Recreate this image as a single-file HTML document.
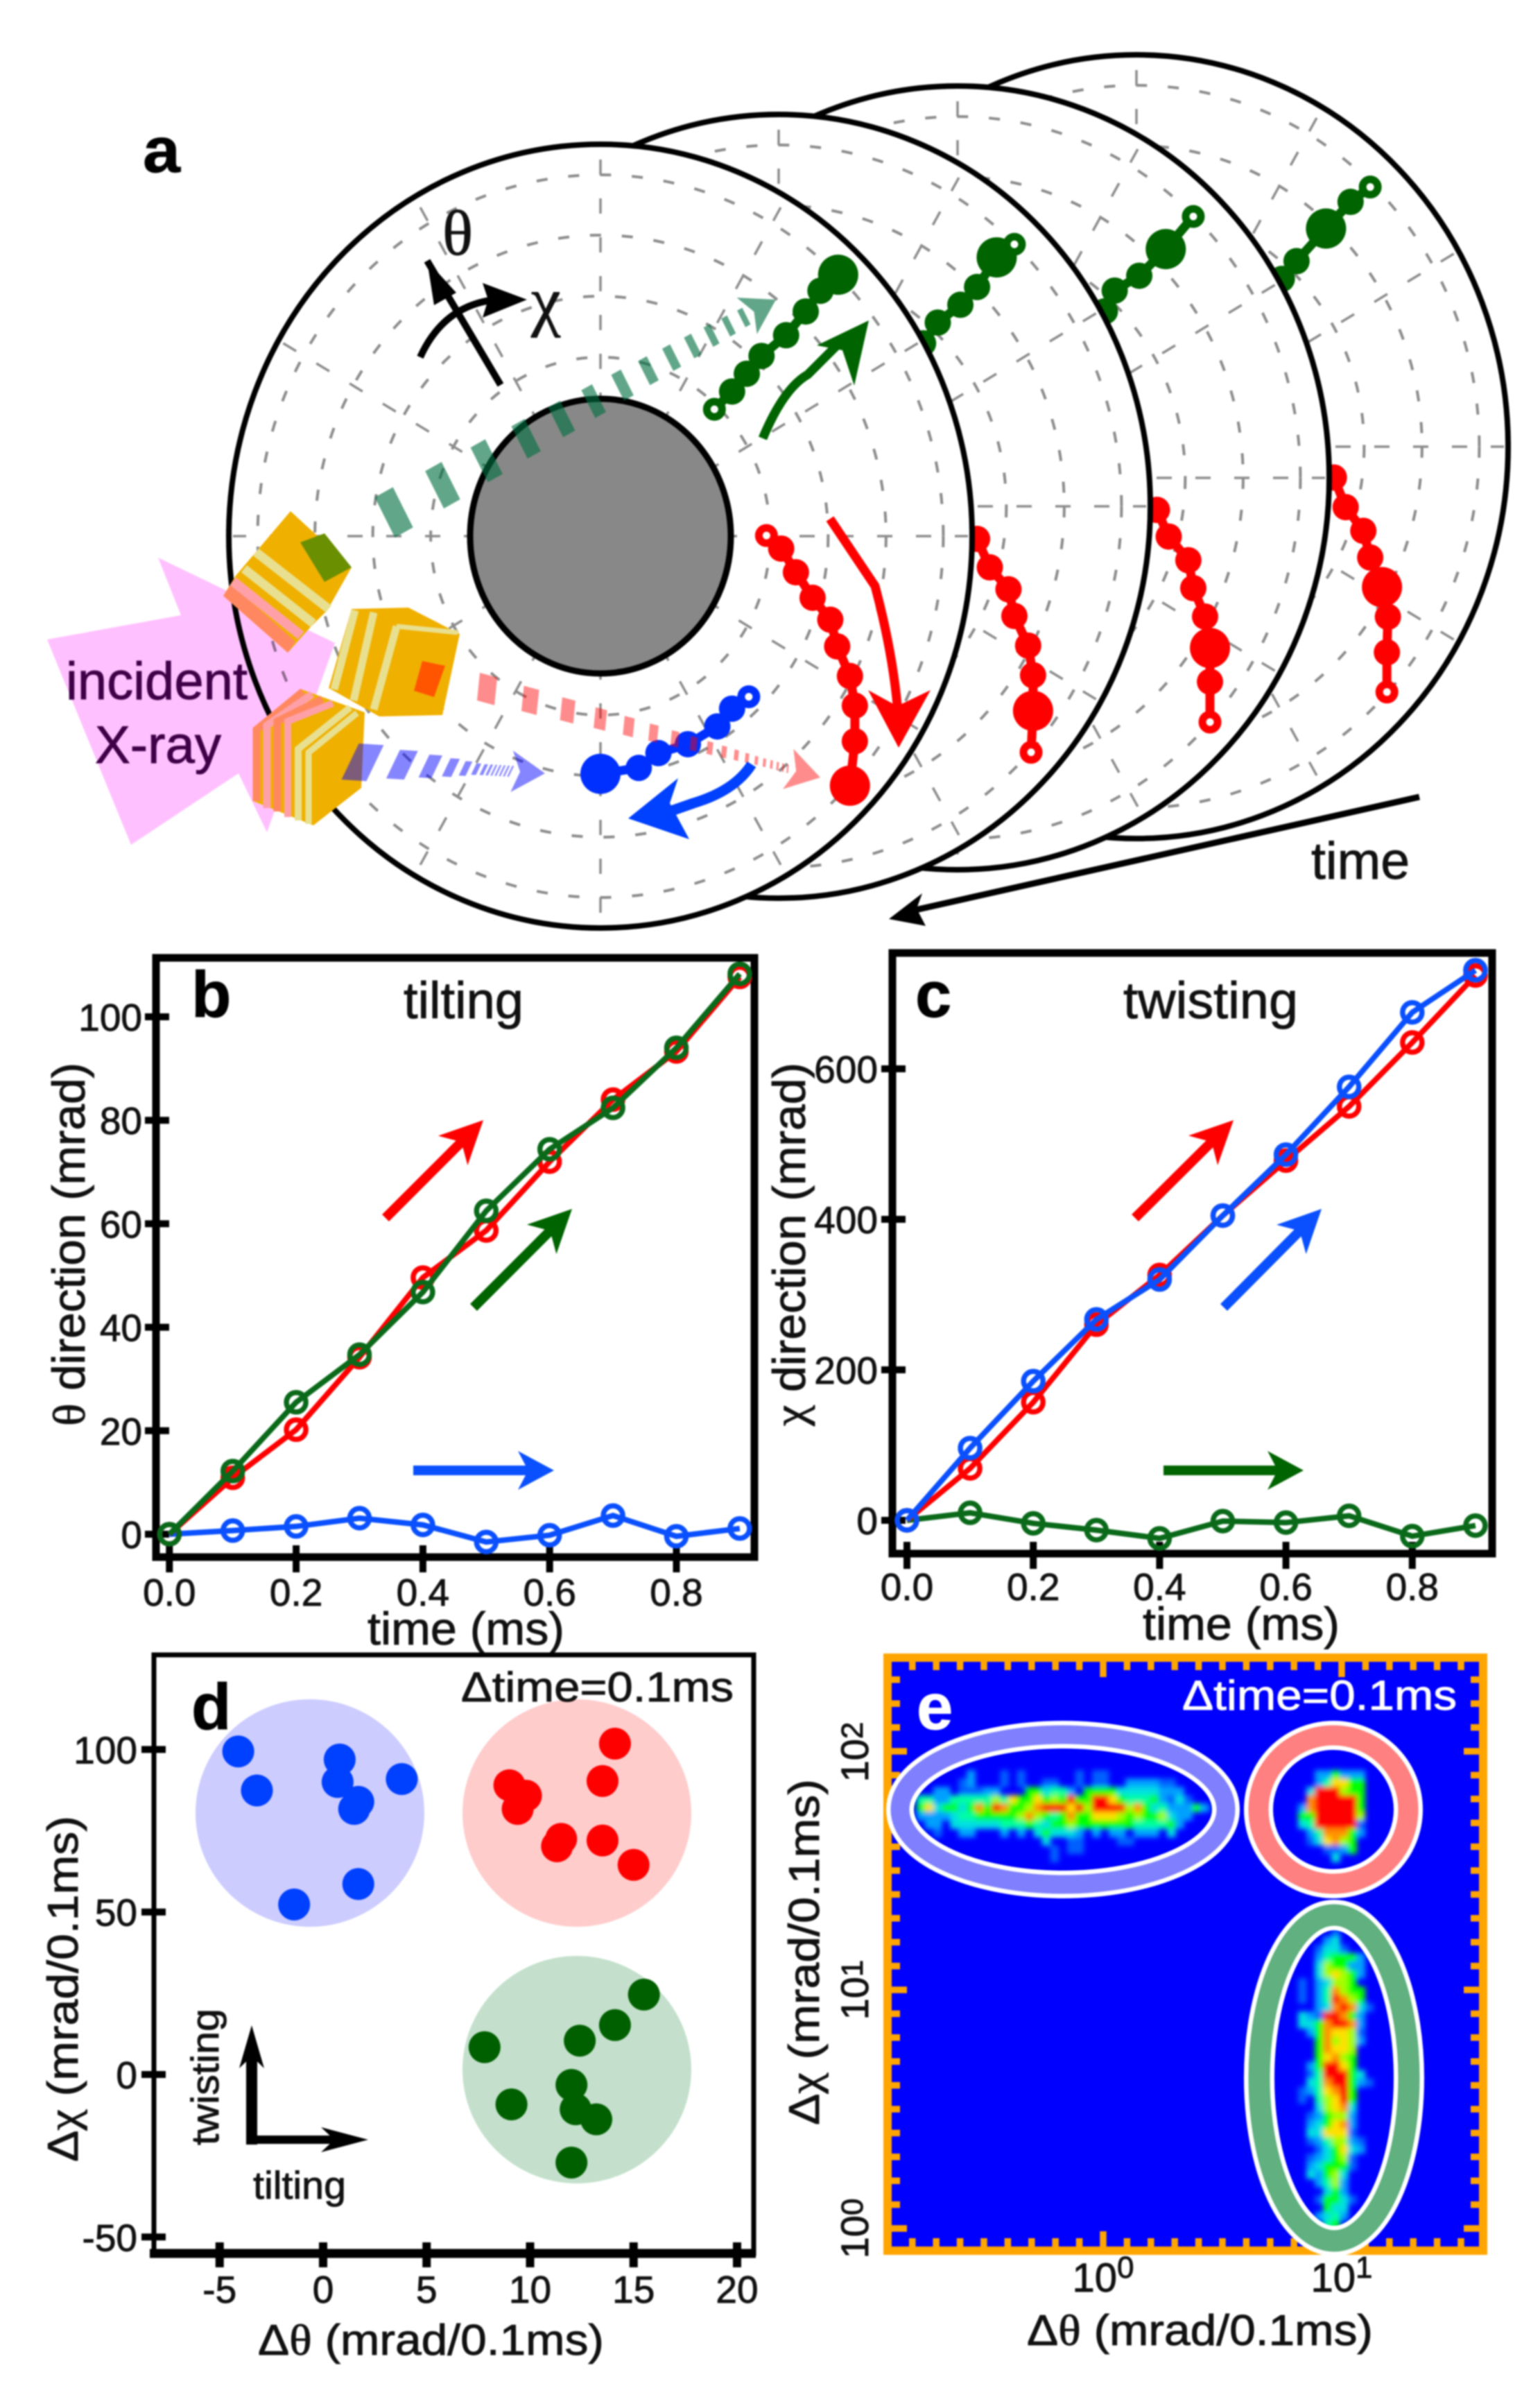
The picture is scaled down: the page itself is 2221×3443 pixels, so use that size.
<!DOCTYPE html>
<html lang="en">
<head>
<meta charset="utf-8">
<title>X-ray diffraction tilting and twisting figure</title>
<style>
html,body{margin:0;padding:0;background:#fff;}
#figure{display:block;width:2221px;height:3443px;filter:blur(1.1px);}
text{font-family:"Liberation Sans",sans-serif;fill:#111;stroke:#111;stroke-width:0.9px;}
.serif{font-family:"Liberation Serif",serif;}
.bold{font-weight:bold;fill:#000;}
</style>
</head>
<body>
<svg id="figure" xmlns="http://www.w3.org/2000/svg" width="2221" height="3443" viewBox="0 0 2221 3443">
<rect width="2221" height="3443" fill="#fff"/>

<!-- PANEL A -->
<g id="panel-a">
  <g id="disks"></g>
  <ellipse cx="866" cy="773" rx="188" ry="198" fill="#888" stroke="#000" stroke-width="9"/>
  <polygon points="228,804 483,927 385,1200 344,1115 189,1218 68,922 261,887" fill="#ffc0ff" style="mix-blend-mode:multiply"/>
  <text x="95" y="1008" font-size="76" textLength="262" lengthAdjust="spacingAndGlyphs" style="fill:#3f0048;stroke:#3f0048">incident</text>
  <text x="137" y="1100" font-size="76" textLength="182" lengthAdjust="spacingAndGlyphs" style="fill:#3f0048;stroke:#3f0048">X-ray</text>

  <g>
    <polygon points="419,737 507,818 472,880 448,904 415,941 322,859 340,830" fill="#f0b000"/>
    <polygon points="322,859 415,941 426,925 333,842" fill="#ff8860"/>
    <line x1="336" y1="838" x2="434" y2="916" stroke="#ffa0a8" stroke-width="14"/>
    <line x1="352" y1="820" x2="452" y2="899" stroke="#e8e090" stroke-width="13"/>
    <line x1="369" y1="796" x2="474" y2="878" stroke="#e8e090" stroke-width="13"/>
    <polygon points="433,782 468,769 507,818 468,839" fill="#6a8f00"/>
  </g>
  <g>
    <polygon points="507,878 589,876 663,914 638,1031 547,1033 474,992" fill="#f0b000"/>
    <line x1="512" y1="880" x2="482" y2="994" stroke="#e8e090" stroke-width="11"/>
    <line x1="539" y1="883" x2="510" y2="1010" stroke="#e8e090" stroke-width="11"/>
    <line x1="572" y1="903" x2="539" y2="1023" stroke="#e8e090" stroke-width="11"/>
    <polyline points="572,903 660,912" fill="none" stroke="#e8e090" stroke-width="7"/>
    <polygon points="609,953 642,960 626,1005 597,996" fill="#ff5500"/>
  </g>
  <g>
    <polygon points="435,994 526,1027 521,1136 452,1190 365,1155 365,1050" fill="#f0b000"/>
    <polyline points="370,1155 370,1052 437,997" fill="none" stroke="#ff8860" stroke-width="11"/>
    <polyline points="385,1165 385,1046 450,1001" fill="none" stroke="#ffa0a8" stroke-width="11"/>
    <polyline points="400,1170 400,1040 465,1008" fill="none" stroke="#ff8860" stroke-width="11"/>
    <polyline points="415,1178 415,1040 480,1014" fill="none" stroke="#ffa0a8" stroke-width="10"/>
    <polyline points="430,1183 430,1080 505,1020" fill="none" stroke="#e8e090" stroke-width="10"/>
    <polyline points="445,1188 445,1085 515,1028" fill="none" stroke="#e8e090" stroke-width="9"/>
  </g>

  <g id="beam-arrows"></g>
  <g id="schem-arrows"></g>

  <text x="206" y="248" font-size="92" class="bold" textLength="54" lengthAdjust="spacingAndGlyphs">a</text>
  <text x="638" y="367" font-size="92" class="serif">θ</text>
  <text x="766" y="466" font-size="96" class="serif">χ</text>
  <text x="1891" y="1267" font-size="75" textLength="142" lengthAdjust="spacingAndGlyphs">time</text>
</g>

<!-- PANEL B -->
<g id="panel-b">
  <rect x="225" y="1381" width="863" height="864" fill="#fff" stroke="#000" stroke-width="11"/>
  <g id="b-axes"></g>
  <g id="b-series"></g>
  <g id="b-arrows"></g>
  <text x="276" y="1466" font-size="94" class="bold">b</text>
  <text x="582" y="1468" font-size="74" textLength="173" lengthAdjust="spacingAndGlyphs">tilting</text>
  <text x="672" y="2371" font-size="66" text-anchor="middle" textLength="284" lengthAdjust="spacingAndGlyphs">time (ms)</text>
  <text transform="translate(122,2056) rotate(-90)" font-size="66" textLength="524" lengthAdjust="spacingAndGlyphs"><tspan class="serif">θ</tspan> direction (mrad)</text>
</g>

<!-- PANEL C -->
<g id="panel-c">
  <rect x="1287" y="1374" width="865" height="866" fill="#fff" stroke="#000" stroke-width="11"/>
  <g id="c-axes"></g>
  <g id="c-series"></g>
  <g id="c-arrows"></g>
  <text x="1320" y="1466" font-size="94" class="bold">c</text>
  <text x="1620" y="1468" font-size="74" textLength="252" lengthAdjust="spacingAndGlyphs">twisting</text>
  <text x="1790" y="2364" font-size="66" text-anchor="middle" textLength="284" lengthAdjust="spacingAndGlyphs">time (ms)</text>
  <text transform="translate(1161,2056) rotate(-90)" font-size="66" textLength="524" lengthAdjust="spacingAndGlyphs"><tspan class="serif">χ</tspan> direction (mrad)</text>
</g>

<!-- PANEL D -->
<g id="panel-d">
  <rect x="222" y="2386" width="865" height="863" fill="#fff" stroke="#000" stroke-width="7"/>
  <line x1="216" y1="3249" x2="1090" y2="3249" stroke="#000" stroke-width="13"/>
  <ellipse cx="447" cy="2614" rx="165" ry="164" fill="#ccccff"/>
  <ellipse cx="832" cy="2614" rx="165" ry="164" fill="#ffcccc"/>
  <ellipse cx="832" cy="2984" rx="165" ry="164" fill="#c4e0cc"/>
  <g id="d-axes"></g>
  <g id="d-points"></g>
  <g id="d-arrows"></g>
  <text x="276" y="2493" font-size="94" class="bold">d</text>
  <text x="665" y="2453" font-size="60" textLength="393" lengthAdjust="spacingAndGlyphs">Δtime=0.1ms</text>
  <text transform="translate(315,3093) rotate(-90)" font-size="56" textLength="197" lengthAdjust="spacingAndGlyphs">twisting</text>
  <text x="365" y="3170" font-size="56" textLength="134" lengthAdjust="spacingAndGlyphs">tilting</text>
  <text x="372" y="3395" font-size="62" textLength="499" lengthAdjust="spacingAndGlyphs">Δ<tspan class="serif">θ</tspan> (mrad/0.1ms)</text>
  <text transform="translate(112,3117) rotate(-90)" font-size="62" textLength="499" lengthAdjust="spacingAndGlyphs">Δ<tspan class="serif">χ</tspan> (mrad/0.1ms)</text>
</g>

<!-- PANEL E -->
<g id="panel-e">
  <defs>
    <clipPath id="e-clip"><rect x="1280" y="2390" width="859" height="855"/></clipPath>
    <filter id="heat-blur" x="-5%" y="-5%" width="110%" height="110%"><feGaussianBlur stdDeviation="3.6"/></filter>
  </defs>
  <rect x="1280" y="2390" width="859" height="855" fill="#0000ff"/>
  <g clip-path="url(#e-clip)"><g id="e-heat" filter="url(#heat-blur)"></g></g>
  <rect x="1280" y="2390" width="859" height="855" fill="none" stroke="#ffa500" stroke-width="12"/>
  <g id="e-ticks"></g>
  <g>
    <ellipse cx="1533" cy="2609" rx="235" ry="108" fill="none" stroke="#fff" stroke-width="40"/>
    <ellipse cx="1533" cy="2609" rx="235" ry="108" fill="none" stroke="#8080ff" stroke-width="27"/>
  </g>
  <g>
    <ellipse cx="1923" cy="2609" rx="108" ry="107" fill="none" stroke="#fff" stroke-width="42"/>
    <ellipse cx="1923" cy="2609" rx="108" ry="107" fill="none" stroke="#ff8080" stroke-width="29"/>
  </g>
  <g>
    <ellipse cx="1924" cy="2996" rx="108" ry="235" fill="none" stroke="#fff" stroke-width="44"/>
    <ellipse cx="1924" cy="2996" rx="108" ry="235" fill="none" stroke="#60b080" stroke-width="31"/>
  </g>
  <text x="1322" y="2493" font-size="94" class="bold" style="fill:#fff;stroke:#fff">e</text>
  <text x="1705" y="2465" font-size="60" textLength="396" lengthAdjust="spacingAndGlyphs" style="fill:#fff;stroke:#fff">Δtime=0.1ms</text>
  <text x="1591" y="3304" font-size="58" text-anchor="middle">10<tspan font-size="44" dy="-20">0</tspan></text>
  <text x="1935" y="3304" font-size="58" text-anchor="middle">10<tspan font-size="44" dy="-20">1</tspan></text>
  <text transform="translate(1252,3213) rotate(-90)" font-size="56" text-anchor="middle">10<tspan font-size="44" dy="-8">0</tspan></text>
  <text transform="translate(1252,2869) rotate(-90)" font-size="56" text-anchor="middle">10<tspan font-size="44" dy="-8">1</tspan></text>
  <text transform="translate(1252,2526) rotate(-90)" font-size="56" text-anchor="middle">10<tspan font-size="44" dy="-8">2</tspan></text>
  <text x="1481" y="3381" font-size="62" textLength="499" lengthAdjust="spacingAndGlyphs">Δ<tspan class="serif">θ</tspan> (mrad/0.1ms)</text>
  <text transform="translate(1181,3064) rotate(-90)" font-size="62" textLength="499" lengthAdjust="spacingAndGlyphs">Δ<tspan class="serif">χ</tspan> (mrad/0.1ms)</text>
</g>
</svg>

<script>
/* ---------- chart data ---------- */
const timeValues = [0,0.1,0.2,0.3,0.4,0.5,0.6,0.7,0.8,0.9];
const timeTicks = [0,0.2,0.4,0.6,0.8];
const timeTickLabels = ["0.0","0.2","0.4","0.6","0.8"];

const bRed = [0,10.9,20.2,34.2,49.6,58.7,72,84,93.3,107.7];
const bGreen = [0,12.2,25.5,34.7,46.8,62.5,74.4,82.4,94,108.3];
const bBlue = [0,0.7,1.5,3.1,1.8,-1.5,-0.2,3.6,-0.4,1.1];
const bYTicks = [0,20,40,60,80,100];

const cRed = [0,69,157,260,326,405,478,550,635,724];
const cBlue = [0,96,185,267,320,405,486,576,675,731];
const cGreen = [0,10,-4,-13,-24,-1,-3,6,-21,-7];
const cYTicks = [0,200,400,600];

const dBlueX = [-4.1,-3.2,0.8,0.7,3.8,1.7,1.5,1.7,-1.4];
const dBlueY = [99.4,87.4,96.9,90,90.9,83.9,81.7,58.6,52.3];
const dRedX = [14.1,13.5,9.0,9.8,9.4,11.5,11.3,13.5,15];
const dRedY = [101.8,90.3,89,85.8,81.7,72.5,70.2,72,64.5];
const dGreenX = [15.5,14.1,12.4,7.8,12,9.1,12.2,13.2,12];
const dGreenY = [24.6,15.2,10.4,8.4,-3.2,-9.2,-10.7,-13.8,-27.1];
const dXTicks = [-5,0,5,10,15,20];
const dYTicks = [-50,0,50,100];

/* heatmap density levels 0-9, one string per row */
const heatBlue = [
"000000000000000000000000000000000000",
"000000020001010000001011000000000000",
"000000120001010011001011002222110000",
"000220111220005534420555533333222000",
"044224444464755756595599754445213100",
"057355358598556899979699996853422252",
"022223445555568654585577765655632200",
"002203333334445435565555555444452000",
"000100220002020353332020220222030000",
"000000000000000030011000011000000000",
"000000000000000001011000000000000000",
"000000000000000001000000000000000000"];
const heatRed = [
"0000000000",
"0002252220",
"0002477550",
"0039996550",
"0089999950",
"0289999950",
"0559999960",
"0349999910",
"0024888520",
"0013786500",
"0000112500",
"0000030000"];
const heatGreen = [
"0000010000","0000230000","0001331000","0002455520","0003655220","0003676520",
"0102366500","0102486550","0102498650","0002389831","0321998520","0335899820",
"0025877610","0005867620","0005877600","0005786500","0025997500","0014999530",
"0034899521","0124789500","0104679500","0003678300","0012566200","0023578200",
"0033777100","0012466210","0001357320","0012356100","0023555100","0032563000",
"0002462000","0000352000","0001553100","0000533000","0002342000","0000450000"];
const heatColors = ["#0000ff","#0060ff","#00a0ff","#00e0e0","#00ffa0","#00ff00","#a0ff00","#ffe000","#ff9000","#ff0000"];

/* schematic traces: deflection from each disk's centre [chi, theta, size 0=normal 1=big 2=open] */
const greenTraces = [
 [[116,-214,2],[134,-244,0],[149,-274,0],[164,-304,0],[189,-339,0],[209,-379,0],[224,-414,0],[242,-441,1]],
 [[147,-275,0],[162,-310,0],[185,-340,0],[202,-370,0],[222,-420,1],[240,-442,2]],
 [[150,-281,0],[160,-316,0],[185,-341,0],[212,-386,1],[240,-441,2]],
 [[148,-283,0],[163,-313,0],[193,-368,1],[218,-413,0],[238,-438,2]]];
const redTraces = [
 [[169,-1,2],[184,21,0],[199,61,0],[216,104,0],[234,141,0],[241,186,0],[254,236,0],[259,286,0],[259,346,0],[254,421,1]],
 [[202,55,0],[215,103,0],[234,140,0],[240,185,0],[254,235,0],[259,285,0],[259,345,1],[257,415,2]],
 [[203,54,0],[215,99,0],[235,139,0],[240,186,0],[252,234,0],[257,287,1],[257,344,0],[257,412,2]],
 [[201,52,0],[213,102,0],[231,142,0],[238,187,0],[250,237,1],[256,287,0],[255,347,0],[255,414,2]]];
const blueTrace = [[151,271,2],[134,291,0],[119,321,0],[89,351,0],[59,366,0],[39,391,0],[0,401,1]];

/* ---------- helpers ---------- */
const NS = "http://www.w3.org/2000/svg";
function byId(id){ return document.getElementById(id); }
function mk(parent, tag, attrs, txt){
  const node = document.createElementNS(NS, tag);
  for (const k in attrs) node.setAttribute(k, attrs[k]);
  if (txt !== undefined) node.textContent = txt;
  parent.appendChild(node);
  return node;
}

/* axis functions */
const bX = t => 244.3 + 914 * t;
const bY = v => 2212 - 7.46 * v;
const cX = t => 1308 + 911 * t;
const cY = v => 2192 - 1.085 * v;
const dX = v => 466 + 29.85 * v;
const dY = v => 2991 - 4.686 * v;
const eX = l => 1591 + 344 * l;
const eY = l => 3213 - 344 * l;

function stealth(parent, x0, y0, x1, y1, color, sw, hl, hw, label){
  const a = Math.atan2(y1 - y0, x1 - x0), c = Math.cos(a), s = Math.sin(a);
  const bx = x1 - c * hl * 0.72, by = y1 - s * hl * 0.72;
  const ln = mk(parent, "line", {x1:x0, y1:y0, x2:bx, y2:by, stroke:color, "stroke-width":sw});
  
  
  const p = [[x1,y1],[x1-c*hl-s*hw, y1-s*hl+c*hw],[bx,by],[x1-c*hl+s*hw, y1-s*hl-c*hw]];
  const hd = mk(parent, "polygon", {points:p.map(q=>q[0].toFixed(1)+","+q[1].toFixed(1)).join(" "), fill:color});
  
  
}

/* ---------- panel A disks ---------- */
const diskCx = [866,1123,1381,1639];
const diskCy = [773,730,689,644];
const ringRadii = [521,434,346,258];
const traceSX = 1.4165, traceSY = 0.8546;
const disksG = byId("disks");
for (let i = 3; i >= 0; i--) {
  const g = mk(disksG, "g", {});
  
  
  const cxv = diskCx[i], cyv = diskCy[i];
  const outer = mk(g, "ellipse", {cx:cxv, cy:cyv, rx:536, ry:565, fill:"#fff", stroke:"#000", "stroke-width":8});
  
  
  ringRadii.forEach(r => {
    const ring = mk(g, "ellipse", {cx:cxv, cy:cyv, rx:r*0.949, ry:r, fill:"none", stroke:"#8c8c8c", "stroke-width":4, "stroke-dasharray":"16 30"});
    
    
  });
  for (let k = 0; k < 12; k++) {
    const ang = k * Math.PI / 6;
    const sp = mk(g, "line", {x1:cxv + Math.cos(ang)*175, y1:cyv + Math.sin(ang)*185, x2:cxv + Math.cos(ang)*530, y2:cyv + Math.sin(ang)*558, stroke:"#8c8c8c", "stroke-width":3.5, "stroke-dasharray":"22 34"});
    
    
  }
  drawTrace(g, redTraces[i], "#ff0000", cxv, cyv, 'red-trace');
  drawTrace(g, greenTraces[i], "#006400", cxv, cyv, 'green-trace');
  if (i === 0) drawTrace(g, blueTrace, "#0030ff", cxv, cyv, 'blue-trace');
}
function drawTrace(g, pts, color, cxv, cyv, label){
  const path = pts.map(p => (cxv + p[0]*traceSX).toFixed(1) + "," + (cyv + p[1]*traceSY).toFixed(1)).join(" ");
  const line = mk(g, "polyline", {points:path, fill:"none", stroke:color, "stroke-width":13});
  
  
  pts.forEach(p => {
    const r = p[2] === 1 ? 29 : (p[2] === 2 ? 11 : 19);
    const dot = mk(g, "circle", {cx:cxv + p[0]*traceSX, cy:cyv + p[1]*traceSY, r:r,
      fill:p[2] === 2 ? "#fff" : color, stroke:color, "stroke-width":p[2] === 2 ? 11 : 0});
    
    
  });
}

/* hatched beams */
function beam(x0,y0,x1,y1,color,op,len0,gap0,ratio,acrossX,acrossY,label){
  const g = byId("beam-arrows");
  const total = Math.hypot(x1-x0,y1-y0), ux=(x1-x0)/total, uy=(y1-y0)/total;
  let t = 0, s = 1;
  const headLen = 48;
  while (t < total - headLen) {
    const len = Math.max(len0*s, 2.5), gap = Math.max(gap0*s, 3.5);
    const sc = Math.max(Math.pow(s,0.7), 0.3);
    const cx0 = x0 + ux*t, cy0 = y0 + uy*t;
    const ax = acrossX*sc/2, ay = acrossY*sc/2;
    const pts = [[cx0-ax,cy0-ay],[cx0-ax+ux*len,cy0-ay+uy*len],[cx0+ax+ux*len,cy0+ay+uy*len],[cx0+ax,cy0+ay]];
    const d = mk(g,"polygon",{points:pts.map(q=>q[0].toFixed(1)+","+q[1].toFixed(1)).join(" "),fill:color,"fill-opacity":op});
    
    
    t += len + gap; s *= ratio;
  }
  const hx = x1-ux*headLen, hy = y1-uy*headLen;
  const nx = x1-ux*headLen*0.75, ny = y1-uy*headLen*0.75;
  const hp = [[x1,y1],[hx-uy*30,hy+ux*30],[nx,ny],[hx+uy*30,hy-ux*30]];
  const h = mk(g,"polygon",{points:hp.map(q=>q[0].toFixed(1)+","+q[1].toFixed(1)).join(" "),fill:color,"fill-opacity":op});
  
  
}
beam(555,746,1119,432,"#007040",0.62,30,52,0.9,29,58,'green-beam');
beam(690,990,1183,1121,"#ff0000",0.45,26,40,0.87,-4,40,'red-beam');
beam(505,1098,786,1115,"#0000ff",0.48,36,26,0.72,-25,52,'blue-beam');

/* curved motion arrows */
function curved(d, color, sw, head, label){
  const g = byId("schem-arrows");
  const p = mk(g,"path",{d:d,fill:"none",stroke:color,"stroke-width":sw,"stroke-linejoin":"round"});
  
  
  const h = mk(g,"polygon",{points:head,fill:color});
  
  
}
curved("M1100,632 Q1130,560 1165,540 L1215,490","#006400",13,"1253,462 1178,498 1215,505 1232,556",'green-motion-arrow');
curved("M1197,748 L1262,845 Q1290,950 1296,1040","#ff0000",13,"1296,1078 1252,995 1294,1018 1342,995",'red-motion-arrow');
curved("M1084,1102 Q1060,1140 1000,1158 L960,1172","#0040ff",15,"906,1180 978,1122 966,1158 994,1210",'blue-motion-arrow');
curved("M722,555 L616,376","#000",10,"616,376 626,440 658,422",'theta-arrow');
curved("M606,515 Q640,440 715,432","#000",10,"760,432 696,408 704,432 696,458",'chi-arrow');
curved("M2047,1149 L1320,1312","#000",9,"1282,1325 1330,1288 1322,1310 1335,1335",'time-arrow');

/* ---------- panels B and C ---------- */
function drawLineSeries(parent, xs, ys, fx, fy, color, label){
  const pts = xs.map((x,i)=>fx(x).toFixed(1)+","+fy(ys[i]).toFixed(1)).join(" ");
  const pl = mk(parent,"polyline",{points:pts,fill:"none",stroke:color,"stroke-width":8});
  
  
  xs.forEach((x,i)=>{
    const c = mk(parent,"circle",{cx:fx(x),cy:fy(ys[i]),r:14,fill:"none",stroke:color,"stroke-width":7.5});
    
    
  });
}
function drawTimeAxes(g, fx, fy, yTicks, leftX, bottomY, labelEnd, xBase, prefix){
  timeTicks.forEach((t,i)=>{
    const tk = mk(g,"line",{x1:fx(t),y1:bottomY-17,x2:fx(t),y2:bottomY+22,stroke:"#000","stroke-width":10});
    
    
    const lb = mk(g,"text",{x:fx(t),y:xBase,"font-size":55,"text-anchor":"middle"},timeTickLabels[i]);
    
    
  });
  yTicks.forEach(v=>{
    const tk = mk(g,"line",{x1:leftX-16,y1:fy(v),x2:leftX+19,y2:fy(v),stroke:"#000","stroke-width":10});
    
    
    const lb = mk(g,"text",{x:labelEnd,y:fy(v)+20,"font-size":55,"text-anchor":"end"},String(v));
    
    
  });
}
drawTimeAxes(byId("b-axes"),bX,bY,bYTicks,225,2245,205,2315,'panel-b');
drawTimeAxes(byId("c-axes"),cX,cY,cYTicks,1287,2240,1266,2307,'panel-c');

drawLineSeries(byId("b-series"),timeValues,bBlue,bX,bY,"#0a50ff",'blue-series');
drawLineSeries(byId("b-series"),timeValues,bRed,bX,bY,"#ff0000",'red-series');
drawLineSeries(byId("b-series"),timeValues,bGreen,bX,bY,"#0a6a1a",'green-series');
drawLineSeries(byId("c-series"),timeValues,cGreen,cX,cY,"#0a6a1a",'green-series');
drawLineSeries(byId("c-series"),timeValues,cRed,cX,cY,"#ff0000",'red-series');
drawLineSeries(byId("c-series"),timeValues,cBlue,cX,cY,"#0a50ff",'blue-series');

stealth(byId("b-arrows"),556,1756,697,1615,"#ff0000",14,62,30,'red-arrow');
stealth(byId("b-arrows"),683,1885,825,1743,"#006400",14,62,30,'green-arrow');
stealth(byId("b-arrows"),596,2120,799,2120,"#0a50ff",14,52,28,'blue-arrow');
stealth(byId("c-arrows"),1637,1756,1779,1615,"#ff0000",14,62,30,'red-arrow');
stealth(byId("c-arrows"),1765,1885,1906,1743,"#0a50ff",14,62,30,'blue-arrow');
stealth(byId("c-arrows"),1678,2120,1880,2120,"#006400",14,52,28,'green-arrow');

/* ---------- panel D ---------- */
const dAx = byId("d-axes");
dXTicks.forEach(v=>{
  const tk = mk(dAx,"line",{x1:dX(v),y1:3233,x2:dX(v),y2:3269,stroke:"#000","stroke-width":12});
  
  
  const lb = mk(dAx,"text",{x:dX(v),y:3320,"font-size":55,"text-anchor":"middle"},String(v));
  
  
});
dYTicks.forEach(v=>{
  const tk = mk(dAx,"line",{x1:204,y1:dY(v),x2:239,y2:dY(v),stroke:"#000","stroke-width":10});
  
  
  const lb = mk(dAx,"text",{x:198,y:dY(v)+20,"font-size":55,"text-anchor":"end"},String(v));
  
  
});
function drawPoints(xs, ys, color, label){
  xs.forEach((x,i)=>{
    const c = mk(byId("d-points"),"circle",{cx:dX(x),cy:dY(ys[i]),r:23,fill:color});
    
    
  });
}
drawPoints(dBlueX,dBlueY,"#0040ff",'blue-point');
drawPoints(dRedX,dRedY,"#ff0000",'red-point');
drawPoints(dGreenX,dGreenY,"#006000",'green-point');
stealth(byId("d-arrows"),363,3092,363,2920,"#000",16,62,18,'twisting-key-arrow');
stealth(byId("d-arrows"),356,3085,531,3085,"#000",12,68,18,'tilting-key-arrow');

/* ---------- panel E ---------- */
const cellLog = 0.035;
function drawHeat(rows, logX0, logYTop, label){
  const g = byId("e-heat");
  rows.forEach((row,r)=>{
    for (let c = 0; c < row.length; c++) {
      const lvl = +row[c];
      if (!lvl) continue;
      const x = eX(logX0 + c*cellLog), y = eY(logYTop - r*cellLog);
      const cell = mk(g,"rect",{x:x,y:y,width:12.6,height:12.6,fill:heatColors[lvl]});
      
      
    }
  });
}
drawHeat(heatBlue,-0.817,1.956,'blue-cluster');
drawHeat(heatRed,0.782,1.956,'red-cluster');
drawHeat(heatGreen,0.782,1.259,'green-cluster');

const eT = byId("e-ticks");
for (let i = -8; i <= 15; i++) {
  const x = eX(i/10), len = i % 10 === 0 ? 28 : 18;
  const top = mk(eT,"line",{x1:x,y1:2390,x2:x,y2:2390+len,stroke:"#ffa500","stroke-width":9.5});
  
  
  const bot = mk(eT,"line",{x1:x,y1:3245,x2:x,y2:3245-len,stroke:"#ffa500","stroke-width":9.5});
  
  
}
for (let i = 0; i <= 23; i++) {
  const y = eY(i/10), len = i % 10 === 0 ? 28 : 18;
  const lf = mk(eT,"line",{x1:1280,y1:y,x2:1280+len,y2:y,stroke:"#ffa500","stroke-width":9.5});
  
  
  const rt = mk(eT,"line",{x1:2139,y1:y,x2:2139-len,y2:y,stroke:"#ffa500","stroke-width":9.5});
  
  
}
</script>
</body>
</html>
